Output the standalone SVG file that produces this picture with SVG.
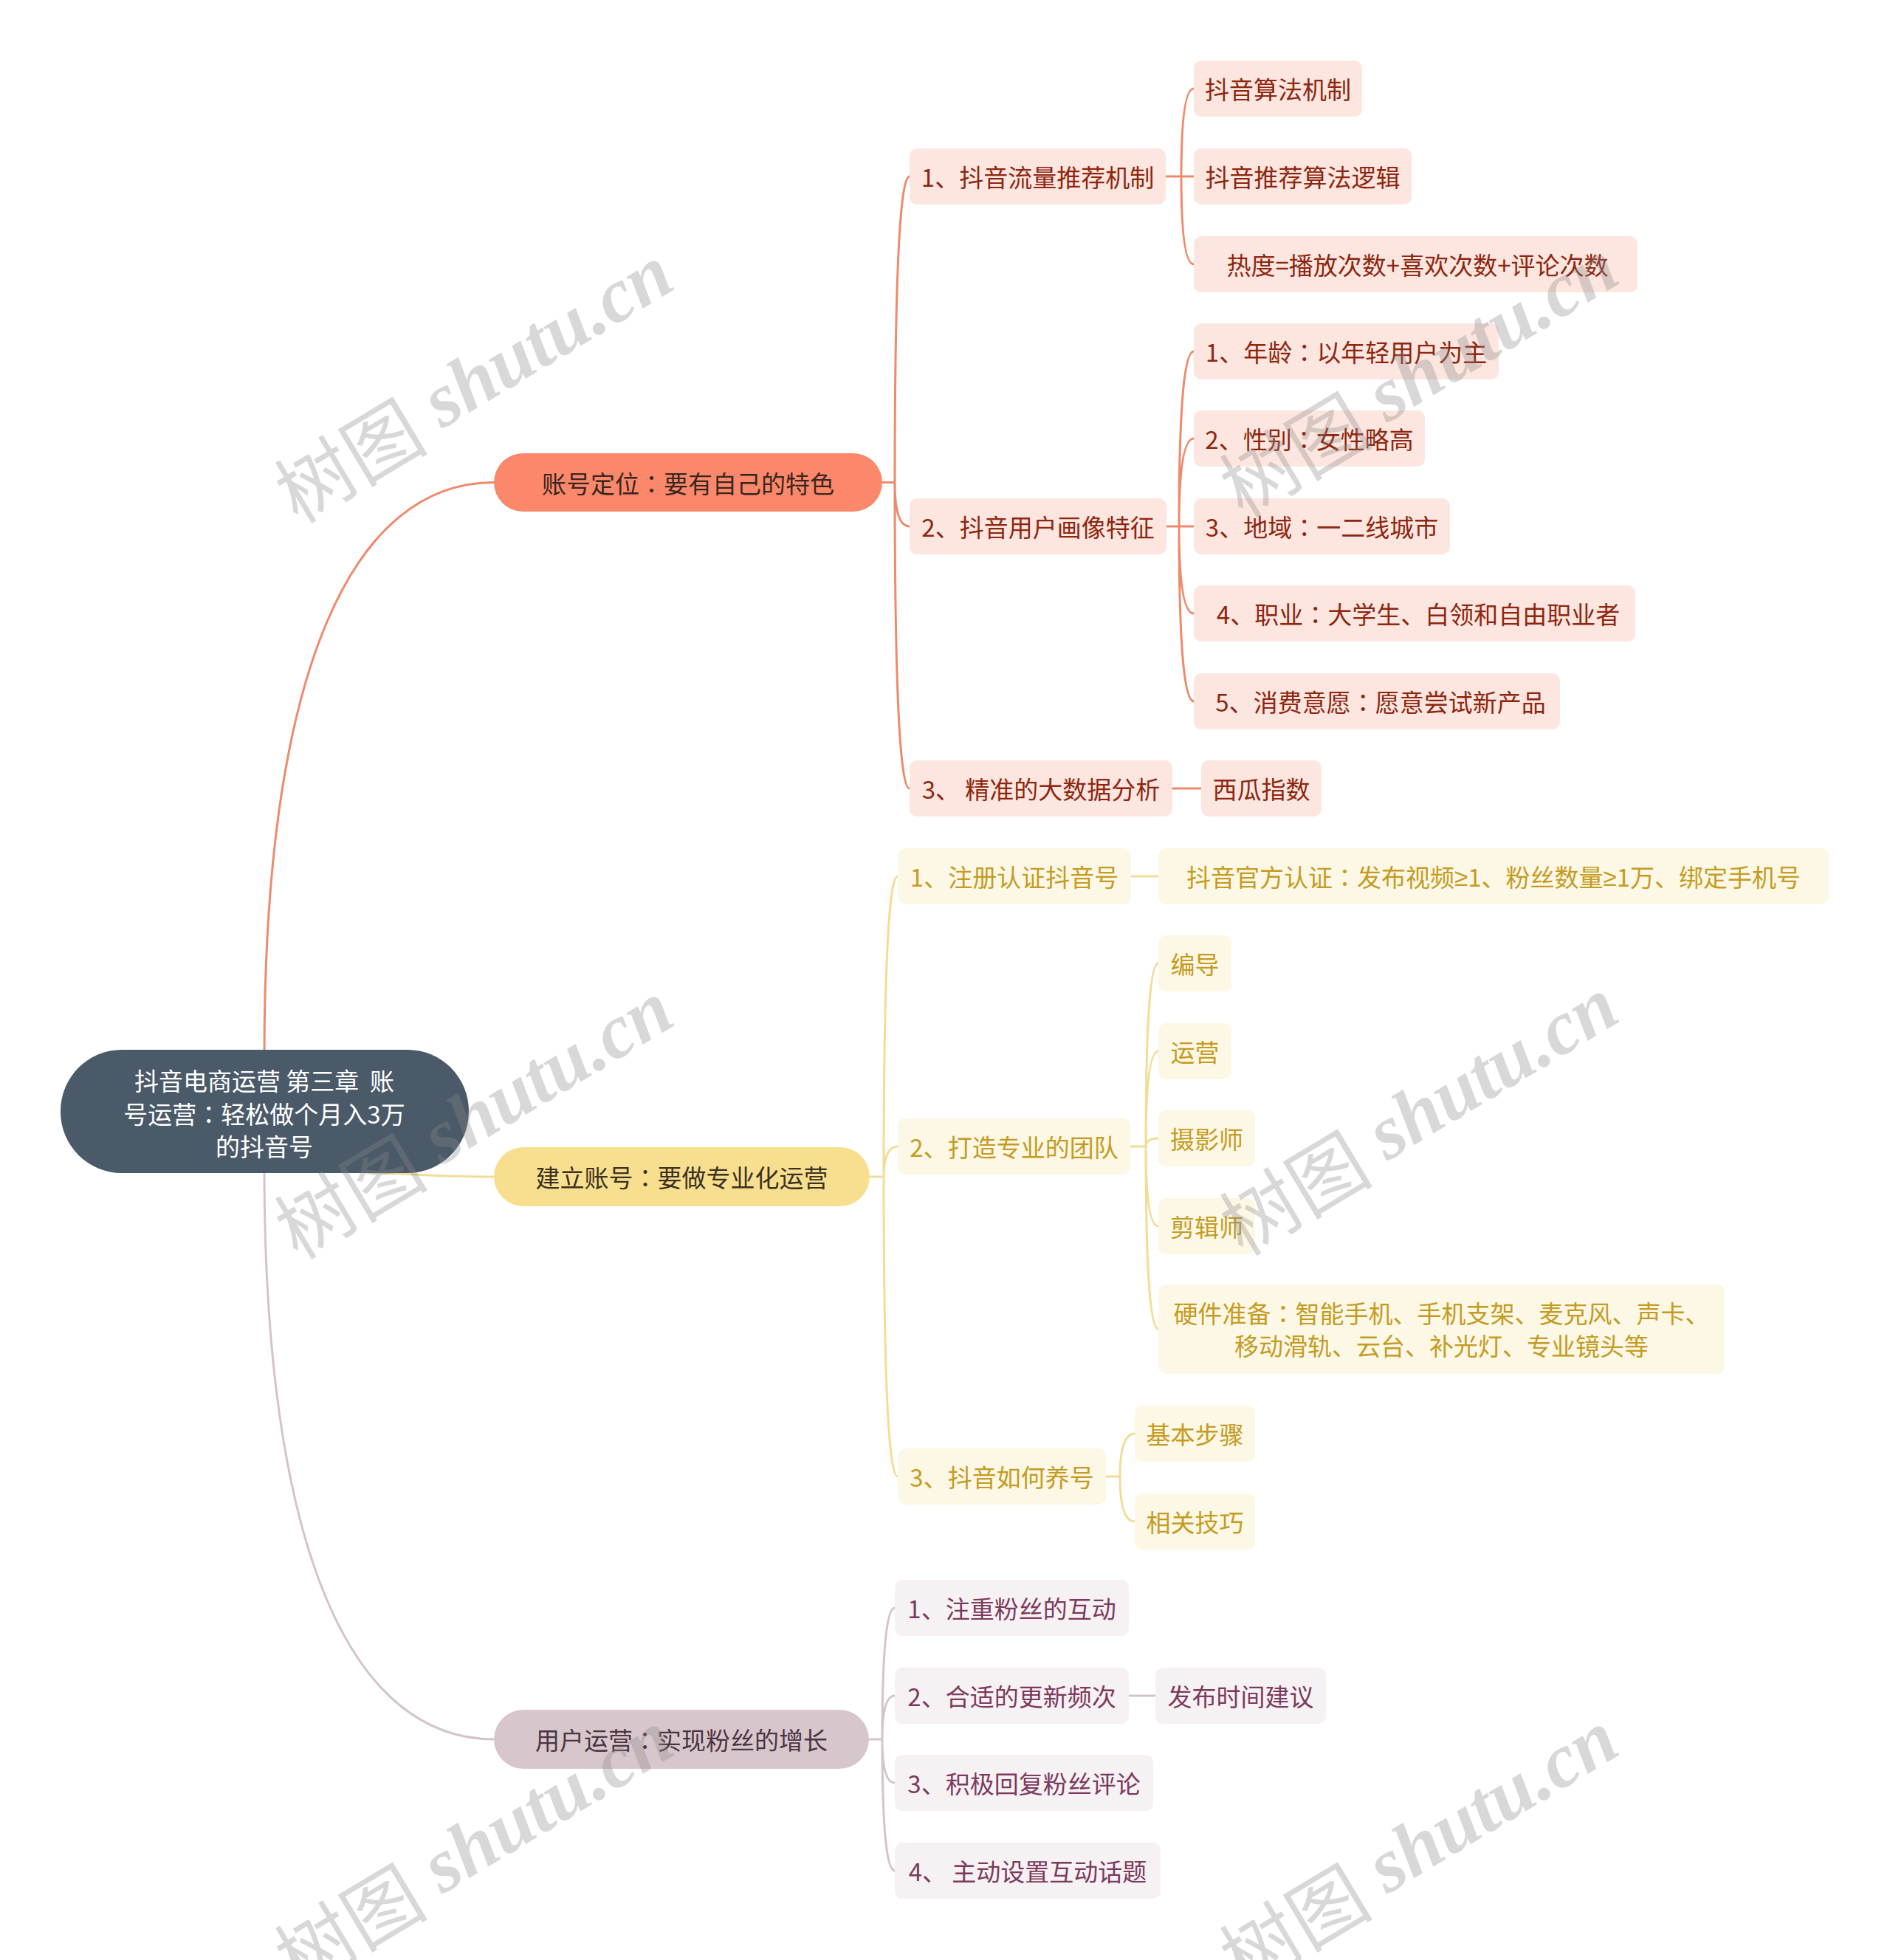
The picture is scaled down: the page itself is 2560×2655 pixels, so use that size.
<svg xmlns="http://www.w3.org/2000/svg" width="2560" height="2655" viewBox="0 0 2560 2655">
<style>
text{font-family:"Noto Sans CJK SC","Noto Sans",sans-serif;font-size:33px;text-anchor:middle;dominant-baseline:central}
.c{font-family:"Noto Sans CJK TC","Noto Sans CJK SC",sans-serif}
.ge{font-family:"Noto Sans","Liberation Sans",sans-serif}
.root rect{fill:#4b5a69}
.root text{fill:#ffffff;white-space:pre}
.r1 rect{fill:#fb886a}
.r1 text{fill:#3a2620}
.r2 rect{fill:#fde6df}
.r2 text{fill:#8e2610}
.y1 rect{fill:#f8df8f}
.y1 text{fill:#3b3120}
.y2 rect{fill:#fdf7e5}
.y2 text{fill:#c49c22}
.m1 rect{fill:#d8c6cd}
.m1 text{fill:#4b3541}
.m2 rect{fill:#f6f1f3}
.m2 text{fill:#7c3a5c}
.cr{fill:none;stroke:#ee8a6c;stroke-width:3}
.cy{fill:none;stroke:#f3dc95;stroke-width:3}
.cm{fill:none;stroke:#d4c4ca;stroke-width:3}
.wm{font-family:"Liberation Serif","Noto Sans CJK SC",serif;font-style:italic;font-weight:bold;font-size:104px;fill:#8a8a8a;fill-opacity:0.33;text-anchor:middle}
.wmc{font-family:"Noto Sans CJK SC",sans-serif;font-style:normal;font-weight:normal}
</style>
<rect width="2560" height="2655" fill="#ffffff"/>
<g id="connectors">
  <path class="cr" d="M358,1430 C358,900 480,653.5 669,653.5"/>
  <path class="cy" d="M450,1585 C540,1590 600,1594 669,1594"/>
  <path class="cm" d="M358,1580 C358,2110 480,2356 669,2356"/>
  <path class="cr" d="M1195,653.5 H1212 M1212,653.5 Q1212,239 1232,239 M1212,653.5 Q1212,713 1232,713 M1212,653.5 Q1212,1068 1232,1068"/>
  <path class="cr" d="M1579,239 H1600 M1600,239 Q1600,120 1617,120 M1600,239 H1617 M1600,239 Q1600,358 1617,358"/>
  <path class="cr" d="M1580,713 H1597 M1597,713 Q1597,476 1617,476 M1597,713 Q1597,594 1617,594 M1597,713 H1617 M1597,713 Q1597,831 1617,831 M1597,713 Q1597,950 1617,950"/>
  <path class="cr" d="M1588,1068 H1627"/>
  <path class="cy" d="M1178,1594 H1197 M1197,1594 Q1197,1187 1216,1187 M1197,1594 Q1197,1553 1216,1553 M1197,1594 Q1197,2000 1216,2000"/>
  <path class="cy" d="M1532,1187 H1569"/>
  <path class="cy" d="M1531,1553 H1552 M1552,1553 Q1552,1305 1569,1305 M1552,1553 Q1552,1424 1569,1424 M1552,1553 Q1552,1542 1569,1542 M1552,1553 Q1552,1661 1569,1661 M1552,1553 Q1552,1800 1569,1800"/>
  <path class="cy" d="M1498,2000 H1517 M1517,2000 Q1517,1942 1537,1942 M1517,2000 Q1517,2061 1537,2061"/>
  <path class="cm" d="M1177,2356 H1195 M1195,2356 Q1195,2178 1212,2178 M1195,2356 Q1195,2297 1212,2297 M1195,2356 Q1195,2415 1212,2415 M1195,2356 Q1195,2534 1212,2534"/>
  <path class="cm" d="M1529,2297 H1565"/>
</g>

<g id="root" class="root">
  <rect x="82" y="1422" width="553" height="167" rx="83"/>
  <text x="358" y="1463">抖音电商运营 第三章  账</text>
  <text x="358" y="1508">号运营<tspan class="c">：</tspan>轻松做个月入3万</text>
  <text x="358" y="1552">的抖音号</text>
</g>

<g id="n-zhdw" class="r1"><rect x="669" y="614" width="526" height="79" rx="39.5"/><text x="932" y="653.5">账号定位<tspan class="c">：</tspan>要有自己的特色</text></g>
<g id="n-a1" class="r2"><rect x="1232" y="201" width="347" height="76" rx="10"/><text x="1405.5" y="239">1、抖音流量推荐机制</text></g>
<g id="n-a1a" class="r2"><rect x="1617" y="82" width="228" height="76" rx="10"/><text x="1731" y="120">抖音算法机制</text></g>
<g id="n-a1b" class="r2"><rect x="1617" y="201" width="295" height="76" rx="10"/><text x="1764.5" y="239">抖音推荐算法逻辑</text></g>
<g id="n-a1c" class="r2"><rect x="1617" y="320" width="601" height="76" rx="10"/><text x="1920" y="358">热度=播放次数+喜欢次数+评论次数</text></g>
<g id="n-a2" class="r2"><rect x="1232" y="675" width="348" height="76" rx="10"/><text x="1406" y="713">2、抖音用户画像特征</text></g>
<g id="n-a2a" class="r2"><rect x="1617" y="438" width="413" height="76" rx="10"/><text x="1823.5" y="476">1、年龄<tspan class="c">：</tspan>以年轻用户为主</text></g>
<g id="n-a2b" class="r2"><rect x="1617" y="556" width="313" height="76" rx="10"/><text x="1773.5" y="594">2、性别<tspan class="c">：</tspan>女性略高</text></g>
<g id="n-a2c" class="r2"><rect x="1617" y="675" width="347" height="76" rx="10"/><text x="1790.5" y="713">3、地域<tspan class="c">：</tspan>一二线城市</text></g>
<g id="n-a2d" class="r2"><rect x="1617" y="793" width="598" height="76" rx="10"/><text x="1921" y="831">4、职业<tspan class="c">：</tspan>大学生、白领和自由职业者</text></g>
<g id="n-a2e" class="r2"><rect x="1617" y="912" width="496" height="76" rx="10"/><text x="1870" y="950">5、消费意愿<tspan class="c">：</tspan>愿意尝试新产品</text></g>
<g id="n-a3" class="r2"><rect x="1232" y="1030" width="356" height="76" rx="10"/><text x="1410" y="1068">3、 精准的大数据分析</text></g>
<g id="n-a3a" class="r2"><rect x="1627" y="1030" width="163" height="76" rx="10"/><text x="1708.5" y="1068">西瓜指数</text></g>

<g id="n-jlzh" class="y1"><rect x="669" y="1554" width="509" height="80" rx="40"/><text x="923.5" y="1594">建立账号<tspan class="c">：</tspan>要做专业化运营</text></g>
<g id="n-b1" class="y2"><rect x="1216" y="1149" width="316" height="76" rx="10"/><text x="1374" y="1187">1、注册认证抖音号</text></g>
<g id="n-b1a" class="y2"><rect x="1569" y="1149" width="908" height="76" rx="10"/><text x="2023" y="1187">抖音官方认证<tspan class="c">：</tspan>发布视频<tspan class="ge">≥</tspan>1、粉丝数量<tspan class="ge">≥</tspan>1万、绑定手机号</text></g>
<g id="n-b2" class="y2"><rect x="1216" y="1515" width="315" height="76" rx="10"/><text x="1373.5" y="1553">2、打造专业的团队</text></g>
<g id="n-b2a" class="y2"><rect x="1569" y="1267" width="99" height="76" rx="10"/><text x="1618.5" y="1305">编导</text></g>
<g id="n-b2b" class="y2"><rect x="1569" y="1386" width="99" height="76" rx="10"/><text x="1618.5" y="1424">运营</text></g>
<g id="n-b2c" class="y2"><rect x="1569" y="1504" width="131" height="76" rx="10"/><text x="1634.5" y="1542">摄影师</text></g>
<g id="n-b2d" class="y2"><rect x="1569" y="1623" width="131" height="76" rx="10"/><text x="1634.5" y="1661">剪辑师</text></g>
<g id="n-b2e" class="y2"><rect x="1569" y="1740" width="767" height="121" rx="10"/><text x="1952.5" y="1778">硬件准备<tspan class="c">：</tspan>智能手机、手机支架、麦克风、声卡、</text><text x="1952.5" y="1822">移动滑轨、云台、补光灯、专业镜头等</text></g>
<g id="n-b3" class="y2"><rect x="1216" y="1962" width="282" height="76" rx="10"/><text x="1357" y="2000">3、抖音如何养号</text></g>
<g id="n-b3a" class="y2"><rect x="1537" y="1904" width="163" height="76" rx="10"/><text x="1618.5" y="1942">基本步骤</text></g>
<g id="n-b3b" class="y2"><rect x="1537" y="2023" width="163" height="76" rx="10"/><text x="1618.5" y="2061">相关技巧</text></g>

<g id="n-yhyy" class="m1"><rect x="669" y="2316" width="508" height="80" rx="40"/><text x="923" y="2356">用户运营<tspan class="c">：</tspan>实现粉丝的增长</text></g>
<g id="n-c1" class="m2"><rect x="1212" y="2140" width="317" height="76" rx="10"/><text x="1370.5" y="2178">1、注重粉丝的互动</text></g>
<g id="n-c2" class="m2"><rect x="1212" y="2259" width="317" height="76" rx="10"/><text x="1370.5" y="2297">2、合适的更新频次</text></g>
<g id="n-c2a" class="m2"><rect x="1565" y="2259" width="231" height="76" rx="10"/><text x="1680.5" y="2297">发布时间建议</text></g>
<g id="n-c3" class="m2"><rect x="1212" y="2377" width="350" height="76" rx="10"/><text x="1387" y="2415">3、积极回复粉丝评论</text></g>
<g id="n-c4" class="m2"><rect x="1212" y="2496" width="360" height="76" rx="10"/><text x="1392" y="2534">4、 主动设置互动话题</text></g>

<g id="watermarks">
  <text class="wm" transform="translate(640,515) rotate(-31)"><tspan class="wmc">树图</tspan> shutu.cn</text>
  <text class="wm" transform="translate(640,1512) rotate(-31)"><tspan class="wmc">树图</tspan> shutu.cn</text>
  <text class="wm" transform="translate(640,2500) rotate(-31)"><tspan class="wmc">树图</tspan> shutu.cn</text>
  <text class="wm" transform="translate(1920,507) rotate(-31)"><tspan class="wmc">树图</tspan> shutu.cn</text>
  <text class="wm" transform="translate(1920,1507) rotate(-31)"><tspan class="wmc">树图</tspan> shutu.cn</text>
  <text class="wm" transform="translate(1920,2500) rotate(-31)"><tspan class="wmc">树图</tspan> shutu.cn</text>
</g>
</svg>
